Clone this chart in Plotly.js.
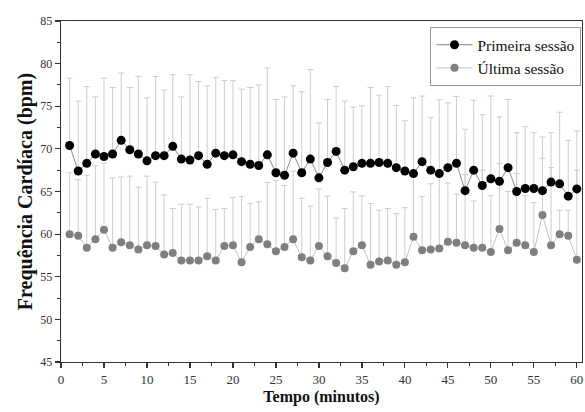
<!DOCTYPE html>
<html><head><meta charset="utf-8">
<script src="https://cdn.plot.ly/plotly-3.0.1.min.js"></script>
<style>html,body{margin:0;padding:0;background:#fff}#chart{width:585px;height:412px}</style>
</head><body><div id="chart"></div>
<script>
const minutos = [1,2,3,4,5,6,7,8,9,10,11,12,13,14,15,16,17,18,19,20,21,22,23,24,25,26,27,28,29,30,31,32,33,34,35,36,37,38,39,40,41,42,43,44,45,46,47,48,49,50,51,52,53,54,55,56,57,58,59,60];

const primeiraMedia = [70.4,67.4,68.3,69.4,69.1,69.4,71.0,69.9,69.4,68.6,69.2,69.2,70.3,68.8,68.7,69.2,68.2,69.5,69.2,69.3,
  68.5,68.2,68.05,69.3,67.2,66.9,69.5,67.2,68.8,66.6,68.4,69.7,67.5,67.9,68.3,68.3,68.4,68.3,67.8,67.4,
  67.1,68.5,67.5,67.1,67.8,68.3,65.1,67.5,65.7,66.5,66.2,67.8,65.0,65.35,65.35,65.1,66.1,65.9,64.45,65.3];

const primeiraSuperior = [78.3,75.6,77.3,76.1,78.3,77.2,78.9,77.2,78.5,76.0,78.5,76.9,78.7,76.1,78.7,77.9,77.4,78.4,78.0,78.0,
  77.0,77.2,77.5,79.5,75.8,76.1,77.4,76.7,79.3,73.05,75.8,77.3,75.6,74.9,75.05,77.2,76.3,77.3,75.1,73.3,
  76.0,76.2,73.7,75.75,75.4,76.15,72.3,75.7,74.0,76.2,73.75,75.8,71.9,72.6,71.9,71.4,71.9,74.3,71.0,72.1];

const ultimaMedia = [60.0,59.8,58.4,59.4,60.5,58.4,59.05,58.7,58.2,58.7,58.6,57.6,57.8,56.9,56.9,56.9,57.4,56.9,58.6,58.7,
  56.7,58.5,59.4,58.8,58.0,58.5,59.4,57.3,56.9,58.6,57.4,56.6,56.0,58.0,58.7,56.4,56.8,56.9,56.4,56.7,
  59.7,58.1,58.2,58.3,59.1,59.0,58.7,58.4,58.4,57.9,60.6,58.1,59.0,58.7,57.9,62.25,58.7,60.0,59.8,57.0];

const ultimaSuperior = [67.2,66.4,66.9,68.0,68.3,66.6,66.7,66.8,65.5,66.8,66.1,64.6,63.0,63.5,63.5,63.2,64.2,62.9,63.0,64.3,
  64.4,63.6,63.8,66.05,66.3,65.7,67.4,64.2,63.3,65.3,64.45,61.9,63.0,64.95,64.5,63.6,62.8,63.0,62.4,63.1,
  67.5,64.4,65.9,67.0,66.0,64.7,67.0,63.9,67.5,64.5,68.3,65.0,67.1,64.5,63.7,68.9,67.8,62.8,62.8,67.5];

const xTicks = [0,5,10,15,20,25,30,35,40,45,50,55,60];
const yTicks = [45,50,55,60,65,70,75,80,85];
const serieNomes = ['Primeira sessão', 'Última sessão'];

function upperError(mean, upper) { return upper.map((u, i) => +(u - mean[i]).toFixed(3)); }
function zeros(arr) { return arr.map(() => 0); }

const errStyle = { color: '#cdcdcd', thickness: 1, width: 3 };

const traceUltima = {
  x: minutos, y: ultimaMedia, name: serieNomes[1], type: 'scatter', mode: 'lines+markers',
  marker: { color: '#7f7f7f', size: 8 },
  line: { color: '#c2c2c2', width: 1 },
  error_y: Object.assign({ type: 'data', symmetric: false, array: upperError(ultimaMedia, ultimaSuperior), arrayminus: zeros(ultimaMedia) }, errStyle),
  legendrank: 2
};
const tracePrimeira = {
  x: minutos, y: primeiraMedia, name: serieNomes[0], type: 'scatter', mode: 'lines+markers',
  marker: { color: '#000000', size: 9 },
  line: { color: '#8c8c8c', width: 1 },
  error_y: Object.assign({ type: 'data', symmetric: false, array: upperError(primeiraMedia, primeiraSuperior), arrayminus: zeros(primeiraMedia) }, errStyle),
  legendrank: 1
};

const axisCommon = {
  showline: true, linecolor: '#333', linewidth: 1.3, mirror: true,
  showgrid: false, zeroline: false,
  ticks: 'outside', ticklen: 5, tickwidth: 1.2, tickcolor: '#333'
};

const layout = {
  width: 585, height: 412,
  margin: { l: 61, r: 3, t: 21, b: 50 },
  paper_bgcolor: '#fff', plot_bgcolor: '#fff',
  font: { family: '"Liberation Serif", "Times New Roman", serif', color: '#222' },
  showlegend: true,
  legend: {
    x: 0.999, xanchor: 'right', y: 0.982, yanchor: 'top',
    bordercolor: '#999', borderwidth: 1, bgcolor: '#fff',
    font: { size: 15.5, color: '#111' }, tracegroupgap: 0, itemwidth: 36
  },
  xaxis: Object.assign({}, axisCommon, {
    range: [0, 60.6], tickmode: 'array', tickvals: xTicks,
    tickfont: { size: 13, color: '#333' },
    minor: { tickmode: 'linear', tick0: 0, dtick: 2.5, ticks: 'outside', ticklen: 3, tickwidth: 1, tickcolor: '#333', showgrid: false },
    title: { text: '<b>Tempo (minutos)</b>', font: { size: 16, color: '#111' }, standoff: 5 }
  }),
  yaxis: Object.assign({}, axisCommon, {
    range: [45, 85], tickmode: 'array', tickvals: yTicks,
    tickfont: { size: 12, color: '#333' },
    minor: { tickmode: 'linear', tick0: 45, dtick: 2.5, ticks: 'outside', ticklen: 3, tickwidth: 1, tickcolor: '#333', showgrid: false },
    title: { text: '<b>Frequência Cardíaca (bpm)</b>', font: { size: 20, color: '#111' }, standoff: 2 }
  })
};

Plotly.newPlot('chart', [traceUltima, tracePrimeira], layout, { displayModeBar: false, staticPlot: true });
</script>
</body></html>
